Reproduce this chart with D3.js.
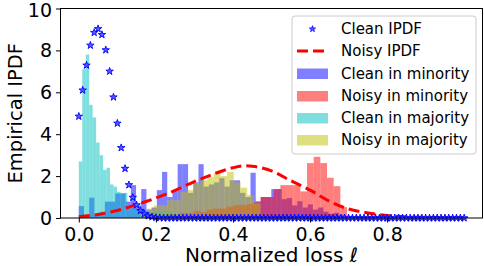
<!DOCTYPE html>
<html>
<head>
<meta charset="utf-8">
<script src="https://cdn.jsdelivr.net/npm/d3@7"></script>
<style>
  body { margin: 0; background: #fff; }
  text { font-family: "DejaVu Sans", sans-serif; }
</style>
</head>
<body>
<div id="chart"></div>
<script>
// clean IPDF, one point every 0.01 from 0 to 1
const clean_ipdf_step = 0.01
const clean_ipdf = [4.85, 6.10, 7.29, 8.24, 8.85, 9.03, 8.75, 8.02, 7.00, 5.77,
  4.52, 3.35, 2.36, 1.58, 0.98, 0.62, 0.35, 0.19, 0.10, 0.05,
  0.02, 0.01, 0, 0, 0, 0, 0, 0, 0, 0,
  0, 0, 0, 0, 0, 0, 0, 0, 0, 0,
  0, 0, 0, 0, 0, 0, 0, 0, 0, 0,
  0, 0, 0, 0, 0, 0, 0, 0, 0, 0,
  0, 0, 0, 0, 0, 0, 0, 0, 0, 0,
  0, 0, 0, 0, 0, 0, 0, 0, 0, 0,
  0, 0, 0, 0, 0, 0, 0, 0, 0, 0,
  0, 0, 0, 0, 0, 0, 0, 0, 0, 0, 0]

const noisy_x = [0, 0.05, 0.10, 0.15, 0.20, 0.25, 0.30, 0.35, 0.40, 0.43, 0.45,
  0.50, 0.55, 0.60, 0.65, 0.70, 0.75, 0.80, 0.85, 0.90, 0.95, 1.00]
const noisy_ipdf = [0.06, 0.17, 0.36, 0.64, 0.95, 1.32, 1.74, 2.10, 2.40, 2.49, 2.47,
  2.25, 1.78, 1.33, 0.80, 0.43, 0.24, 0.12, 0.05, 0.03, 0.01, 0.0]

// histograms: first bin edge, bin width, heights
const clean_minority_start = 0, clean_minority_width = 0.0135
const clean_minority = [0.57, 0.1, 0.97, 0.15, 0.3, 0.78, 0.78, 1.17, 1.17, 0.78,
  1.57, 0.6, 1.38, 0.4, 0.5, 1.33, 2.2, 1.0, 1.3, 2.57,
  2.57, 1.2, 1.7, 2.57, 1.5, 1.6, 1.7, 1.9, 1.5, 1.8,
  1.8, 1.2, 1.0, 2.16, 0.8, 1.0, 1.0, 1.38, 1.38, 0.9,
  0.95, 0.6, 0.8, 0.5, 0.65, 0.4, 0.5, 0.3, 0.2, 0.25, 0.15]

const noisy_minority_start = 0.2116, noisy_minority_width = 0.0173
const noisy_minority = [0.1, 0.2, 0.15, 0.25, 0.25, 0.35, 0.3, 0.4, 0.45, 0.45,
  0.55, 0.62, 0.62, 0.67, 0.75, 1.0, 1.0, 1.38, 1.57, 1.57,
  1.57, 1.27, 2.62, 2.92, 2.62, 1.92, 1.52, 0.52]

const clean_majority_start = 0, clean_majority_width = 0.009
const clean_majority = [2.7, 7.1, 7.8, 5.4, 4.8, 3.6, 3.0, 2.3, 2.4, 1.6,
  1.5, 1.25, 1.2, 1.2, 0.55, 0.5, 0.45, 0.35, 0.3, 0.35,
  0.3, 0.3, 0.35, 0.3, 0.3, 0.35, 0.3, 0.25, 0.2, 0.15,
  0.1, 0.1, 0.05, 0.05]

const noisy_majority_start = 0.16, noisy_majority_width = 0.0173
const noisy_majority = [0.25, 0.45, 0.6, 0.6, 0.85, 0.85, 1.25, 1.33, 1.67, 1.8,
  1.95, 2.14, 2.0, 2.2, 1.7, 1.45, 1.1, 0.7]

const x_ticks = [0, 0.2, 0.4, 0.6, 0.8]
const y_ticks = [0, 2, 4, 6, 8, 10]

const width = 484, height = 266
const plot = { left: 60.5, right: 482.5, top: 8.5, bottom: 218 }

const svg = d3.select("#chart")
    .append("svg")
    .attr("width", width)
    .attr("height", height)

const x = d3.scaleLinear().domain([-0.0475, 1.0475]).range([plot.left, plot.right])
const y = d3.scaleLinear().domain([0, 10]).range([plot.bottom, plot.top])

const hists = [
    { data: clean_minority, start: clean_minority_start, w: clean_minority_width, color: "#0000ff", label: "Clean in minority" },
    { data: noisy_minority, start: noisy_minority_start, w: noisy_minority_width, color: "#ff0000", label: "Noisy in minority" },
    { data: clean_majority, start: clean_majority_start, w: clean_majority_width, color: "#00bfbf", label: "Clean in majority" },
    { data: noisy_majority, start: noisy_majority_start, w: noisy_majority_width, color: "#bfbf00", label: "Noisy in majority" },
]

for (const h of hists) {
    svg.append("g")
        .selectAll("rect")
        .data(h.data)
        .join("rect")
        .attr("x", (d, i) => x(h.start + i * h.w))
        .attr("width", (d, i) => x(h.start + (i + 1) * h.w) - x(h.start + i * h.w))
        .attr("y", d => y(d))
        .attr("height", d => y(0) - y(d))
        .attr("fill", h.color)
        .attr("fill-opacity", 0.5)
}

// noisy IPDF dashed line
svg.append("path")
    .datum(noisy_x.map((v, i) => [v, noisy_ipdf[i]]))
    .attr("fill", "none")
    .attr("stroke", "#ff0000")
    .attr("stroke-width", 3)
    .attr("stroke-dasharray", "11,5")
    .attr("d", d3.line().x(d => x(d[0])).y(d => y(d[1])).curve(d3.curveMonotoneX))

// clean IPDF stars
const star = d3.symbol().type(d3.symbolStar).size(17)
svg.append("g")
    .selectAll("path")
    .data(clean_ipdf)
    .join("path")
    .attr("transform", (d, i) => `translate(${x(i * clean_ipdf_step)},${y(d)})`)
    .attr("d", star)
    .attr("fill", "#5c5cff")
    .attr("stroke", "#0000ff")
    .attr("stroke-width", 0.9)

// frame
svg.append("rect")
    .attr("x", plot.left).attr("y", plot.top)
    .attr("width", plot.right - plot.left).attr("height", plot.bottom - plot.top)
    .attr("fill", "none").attr("stroke", "#000").attr("stroke-width", 1)

const x_axis = svg.append("g")
    .attr("transform", `translate(0,${plot.bottom})`)
    .call(d3.axisBottom(x).tickValues(x_ticks).tickFormat(d3.format(".1f")).tickSize(4.5).tickPadding(5))
const y_axis = svg.append("g")
    .attr("transform", `translate(${plot.left},0)`)
    .call(d3.axisLeft(y).tickValues(y_ticks).tickFormat(d3.format("d")).tickSize(4.5).tickPadding(4))

for (const a of [x_axis, y_axis]) {
    a.select(".domain").remove()
    a.selectAll("text").attr("font-size", 19).attr("fill", "#000").attr("font-family", "DejaVu Sans")
    a.selectAll("line").attr("stroke", "#000")
}
// keep the top label inside the page
y_axis.selectAll("text").filter(d => d === 10).attr("dy", "0.4em")

svg.append("text")
    .attr("x", (plot.left + plot.right) / 2)
    .attr("y", 262)
    .attr("text-anchor", "middle")
    .attr("font-size", 20)
    .text("Normalized loss ")
    .append("tspan").attr("font-style", "italic").text("ℓ")

svg.append("text")
    .attr("transform", `translate(22, ${(plot.top + plot.bottom) / 2}) rotate(-90)`)
    .attr("text-anchor", "middle")
    .attr("font-size", 19.5)
    .text("Empirical IPDF")

// legend
const legend = svg.append("g")
legend.append("rect")
    .attr("x", 292).attr("y", 16)
    .attr("width", 184).attr("height", 138)
    .attr("rx", 3)
    .attr("fill", "#fff").attr("fill-opacity", 0.8)
    .attr("stroke", "#cccccc").attr("stroke-width", 1)

const rows = [29, 51, 73.5, 96, 118, 140]
const labels = ["Clean IPDF", "Noisy IPDF"].concat(hists.map(h => h.label))
legend.selectAll("text")
    .data(labels)
    .join("text")
    .attr("x", 341)
    .attr("y", (d, i) => rows[i])
    .attr("dy", "0.36em")
    .attr("font-size", 15)
    .text(d => d)

legend.append("path")
    .attr("transform", `translate(312.5,${rows[0]})`)
    .attr("d", d3.symbol().type(d3.symbolStar).size(12))
    .attr("fill", "#5c5cff")
    .attr("stroke", "#0000ff")
    .attr("stroke-width", 0.8)

legend.append("line")
    .attr("x1", 297).attr("x2", 328)
    .attr("y1", rows[1]).attr("y2", rows[1])
    .attr("stroke", "#ff0000").attr("stroke-width", 3)
    .attr("stroke-dasharray", "11,5")

hists.forEach((h, i) => {
    legend.append("rect")
        .attr("x", 297).attr("y", rows[i + 2] - 5)
        .attr("width", 31).attr("height", 10.5)
        .attr("fill", h.color).attr("fill-opacity", 0.5)
})
</script>
</body>
</html>
